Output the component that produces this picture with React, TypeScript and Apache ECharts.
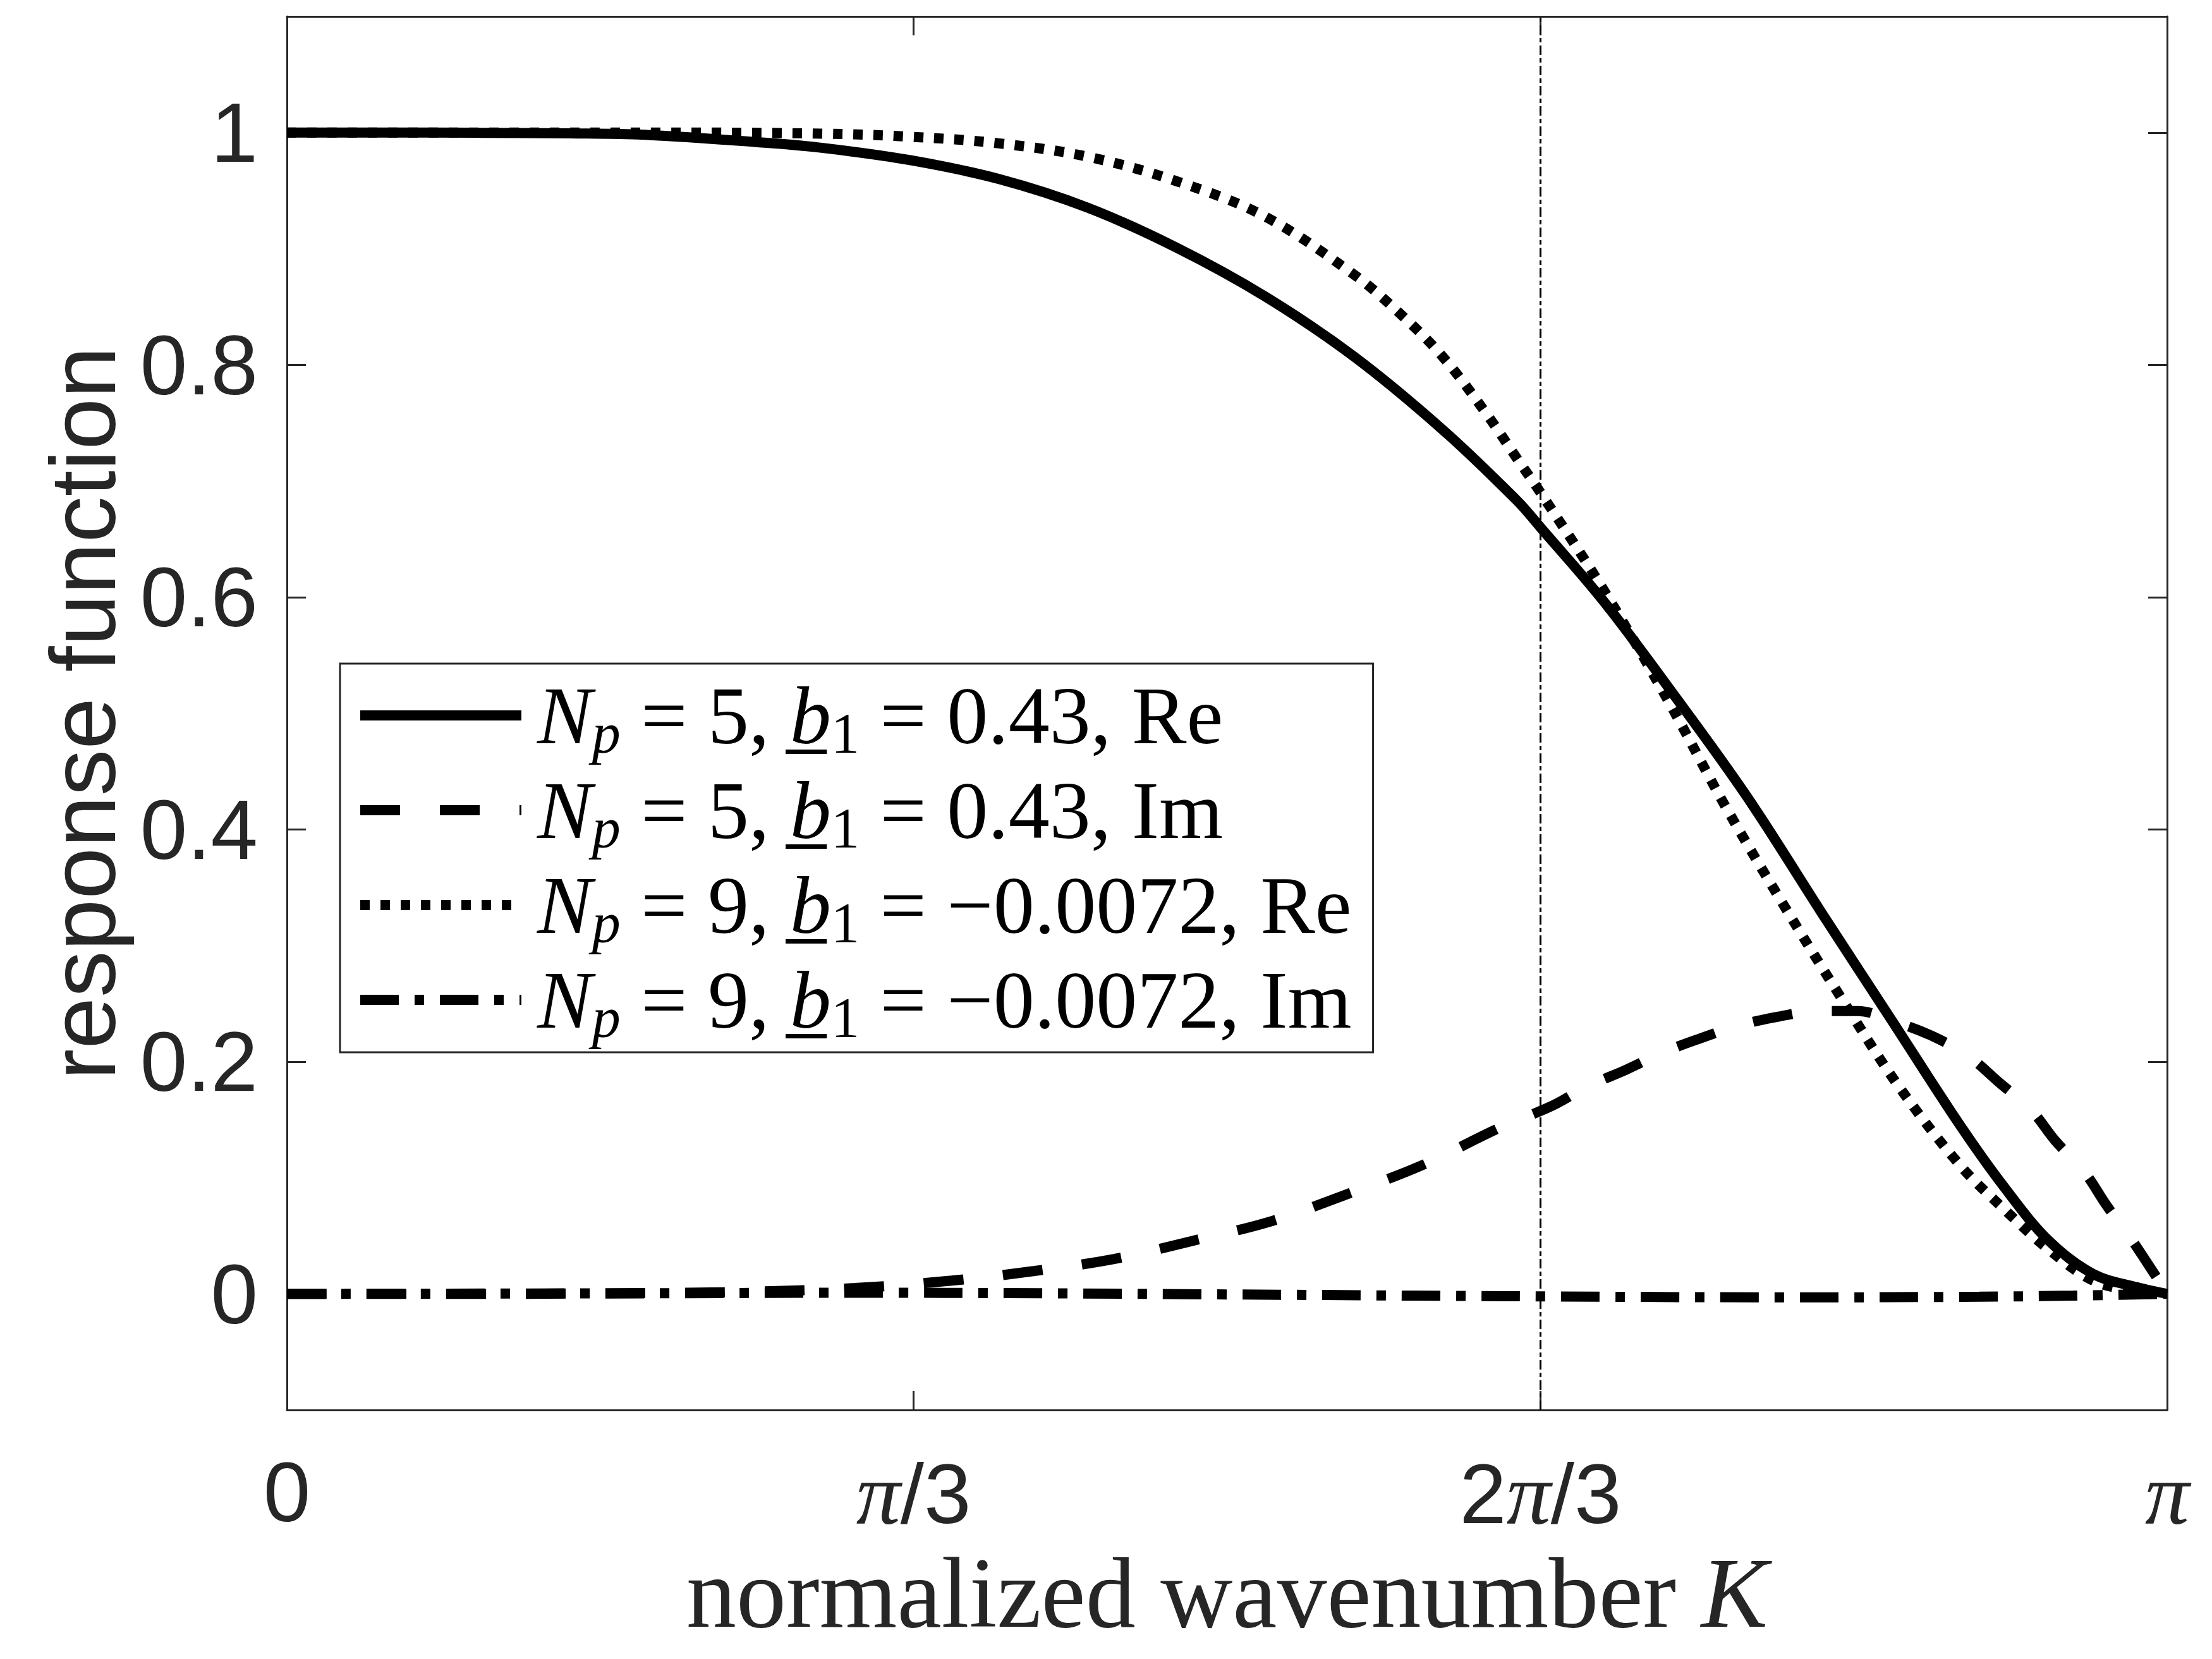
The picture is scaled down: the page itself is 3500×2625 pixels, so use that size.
import React, { useEffect, useRef } from "react";
import * as echarts from "echarts";

// x values are K/π (0 … 1)
const seriesNames = [
  "Np=5, b1=0.43, Re",
  "Np=5, b1=0.43, Im",
  "Np=9, b1=-0.0072, Re",
  "Np=9, b1=-0.0072, Im",
];

const solidK = [0, 0.05, 0.1, 0.15, 0.1916, 0.2494, 0.2844, 0.3315, 0.3787, 0.4259, 0.473, 0.5202, 0.5673, 0.6145, 0.6541, 0.6667, 0.7, 0.7378, 0.7767, 0.8192, 0.8546, 0.8899, 0.9135, 0.937, 0.9607, 0.984, 1];
const solidV = [1, 1, 0.9998, 0.9993, 0.998, 0.9918, 0.9869, 0.9762, 0.96, 0.9353, 0.901, 0.8589, 0.8074, 0.7444, 0.6833, 0.66, 0.597, 0.5155, 0.4277, 0.3207, 0.2329, 0.1451, 0.0916, 0.0458, 0.0171, 0.0057, 0];

const dashedK = [0, 0.1, 0.2, 0.25, 0.302, 0.3536, 0.397, 0.4399, 0.4823, 0.5235, 0.5646, 0.6045, 0.6443, 0.673, 0.6918, 0.712, 0.732, 0.7508, 0.772, 0.7932, 0.8145, 0.8356, 0.8545, 0.8758, 0.8946, 0.9111, 0.9276, 0.9406, 0.956, 0.9677, 0.9807, 0.9925, 1];
const dashedV = [0, 0, 0.0008, 0.002, 0.005, 0.0114, 0.0196, 0.03, 0.0459, 0.0625, 0.0863, 0.1113, 0.1425, 0.162, 0.1787, 0.1928, 0.208, 0.2195, 0.231, 0.2387, 0.2436, 0.2436, 0.2348, 0.2215, 0.2043, 0.1814, 0.1585, 0.1317, 0.105, 0.0764, 0.0477, 0.019, 0];

const dottedK = [0, 0.1, 0.2, 0.2844, 0.3315, 0.3787, 0.4259, 0.473, 0.5202, 0.5673, 0.591, 0.6145, 0.638, 0.6541, 0.6667, 0.7, 0.7343, 0.765, 0.7956, 0.8263, 0.8569, 0.8899, 0.9135, 0.937, 0.9607, 0.984, 1];
const dottedV = [1, 1, 1, 0.9991, 0.9964, 0.9907, 0.9792, 0.9582, 0.9277, 0.878, 0.8456, 0.8074, 0.7578, 0.7196, 0.69, 0.607, 0.5117, 0.42, 0.336, 0.2558, 0.1795, 0.1107, 0.0726, 0.0382, 0.0114, 0.002, 0];

const dashDotK = [0, 0.2, 0.3, 0.4, 0.5, 0.6, 0.7, 0.8, 0.9, 0.95, 1];
const dashDotV = [0, 0.0005, 0.001, 0.0005, -0.0005, -0.0015, -0.0025, -0.003, -0.0025, -0.0015, 0];

const xTickValues = [0, 1 / 3, 2 / 3, 1];
const xTickText = ["0", "π/3", "2π/3", "π"];
const yTickValues = [0, 0.2, 0.4, 0.6, 0.8, 1];
const yTickText = ["0", "0.2", "0.4", "0.6", "0.8", "1"];
const markerK = 2 / 3;

const legendText: Record<string, string> = {
  [seriesNames[0]]: "{it|N}{subi|p} = 5, {it|b\u0332}{sub|1} = 0.43, Re",
  [seriesNames[1]]: "{it|N}{subi|p} = 5, {it|b\u0332}{sub|1} = 0.43, Im",
  [seriesNames[2]]: "{it|N}{subi|p} = 9, {it|b\u0332}{sub|1} = \u22120.0072, Re",
  [seriesNames[3]]: "{it|N}{subi|p} = 9, {it|b\u0332}{sub|1} = \u22120.0072, Im",
};

const AX = "#262626";
const SANS = "Liberation Sans";
const SERIF = "Liberation Serif";

function pairs(k: number[], v: number[]) {
  return k.map((x, i) => [x, v[i]]);
}

export default function App() {
  const ref = useRef<HTMLDivElement>(null);
  useEffect(() => {
    const chart = echarts.init(ref.current!, null, { renderer: "svg" });
    const lineBase = (name: string, k: number[], v: number[], dash: any) => ({
      name,
      type: "line",
      data: pairs(k, v),
      showSymbol: false,
      symbol: "none",
      smooth: 0.35,
      lineStyle: { color: "#000", width: 16, type: dash, cap: "butt" },
      itemStyle: { color: "#000" },
    });
    const axisCommon = {
      type: "value",
      axisLine: { show: true, onZero: false, lineStyle: { color: AX, width: 3 } },
      splitLine: { show: false },
    };
    const option: any = {
      animation: false,
      backgroundColor: "#fff",
      grid: { left: 454, right: 71, top: 26, bottom: 394 },
      xAxis: [
        {
          ...axisCommon,
          min: 0,
          max: 1,
          position: "bottom",
          axisTick: { show: true, inside: true, length: 30, customValues: xTickValues, lineStyle: { color: AX, width: 3 } },
          axisLabel: {
            customValues: xTickValues,
            margin: 62,
            fontSize: 134,
            fontFamily: SANS,
            color: AX,
            formatter: (val: number) => {
              const i = xTickValues.findIndex((t) => Math.abs(t - val) < 1e-6);
              const s = i >= 0 ? xTickText[i] : "";
              return s.replace("π", "{pi|π}");
            },
            rich: { pi: { fontFamily: SERIF, fontStyle: "italic", fontSize: 140, color: AX } },
          },
          name: "normalized wavenumber {i|K}",
          nameLocation: "middle",
          nameGap: 210,
          nameTextStyle: {
            fontFamily: SERIF,
            fontSize: 158,
            color: AX,
            rich: { i: { fontFamily: SERIF, fontStyle: "italic", fontSize: 158, color: AX } },
          },
        },
        {
          ...axisCommon,
          min: 0,
          max: 1,
          position: "top",
          axisTick: { show: true, inside: true, length: 30, customValues: xTickValues, lineStyle: { color: AX, width: 3 } },
          axisLabel: { show: false },
        },
      ],
      yAxis: [
        {
          ...axisCommon,
          min: -0.1,
          max: 1.1,
          position: "left",
          axisTick: { show: true, inside: true, length: 30, customValues: yTickValues, lineStyle: { color: AX, width: 3 } },
          axisLabel: {
            customValues: yTickValues,
            margin: 46,
            fontSize: 134,
            fontFamily: SANS,
            color: AX,
            formatter: (val: number) => {
              const i = yTickValues.findIndex((t) => Math.abs(t - val) < 1e-6);
              return i >= 0 ? yTickText[i] : "";
            },
          },
          name: "response function",
          nameLocation: "middle",
          nameRotate: 90,
          nameGap: 250,
          nameTextStyle: { fontFamily: SANS, fontSize: 147, color: AX },
        },
        {
          ...axisCommon,
          min: -0.1,
          max: 1.1,
          position: "right",
          axisTick: { show: true, inside: true, length: 30, customValues: yTickValues, lineStyle: { color: AX, width: 3 } },
          axisLabel: { show: false },
        },
      ],
      legend: {
        show: true,
        orient: "vertical",
        left: 538,
        top: 1050,
        selectedMode: false,
        itemWidth: 255,
        itemHeight: 16,
        itemGap: 4,
        padding: [9, 34, 10, 24],
        borderColor: AX,
        borderWidth: 3,
        backgroundColor: "#fff",
        data: seriesNames,
        lineStyle: { width: 16, type: "inherit", cap: "butt" },
        itemStyle: { color: "rgba(0,0,0,0)", borderWidth: 0, opacity: 0 },
        formatter: (name: string) => legendText[name] || name,
        textStyle: {
          fontFamily: SERIF,
          fontSize: 130,
          lineHeight: 120,
          color: "#000",
          padding: [0, 0, 0, 20],
          rich: {
            it: { fontFamily: SERIF, fontStyle: "italic", fontSize: 130, lineHeight: 120, color: "#000" },
            subi: { fontFamily: SERIF, fontStyle: "italic", fontSize: 90, lineHeight: 120, padding: [56, 0, 0, 0], color: "#000" },
            sub: { fontFamily: SERIF, fontSize: 90, lineHeight: 120, padding: [56, 0, 0, 0], color: "#000" },
          },
        },
      },
      series: [
        {
          ...lineBase(seriesNames[0], solidK, solidV, "solid"),
          z: 5,
          markLine: {
            silent: true,
            symbol: "none",
            precision: 8,
            label: { show: false },
            lineStyle: { color: "#000", width: 3, type: [15, 5, 7, 5] },
            data: [{ xAxis: markerK }],
          },
        },
        { ...lineBase(seriesNames[1], dashedK, dashedV, [63, 63]), z: 4 },
        { ...lineBase(seriesNames[2], dottedK, dottedV, [15, 17]), z: 3 },
        { ...lineBase(seriesNames[3], dashDotK, dashDotV, [61, 25, 15, 25]), z: 4 },
      ],
    };
    chart.setOption(option);
    return () => chart.dispose();
  }, []);
  return (
    <div
      ref={ref}
      style={{ position: "fixed", left: 0, top: 0, width: 3500, height: 2625, background: "#fff" }}
    />
  );
}
